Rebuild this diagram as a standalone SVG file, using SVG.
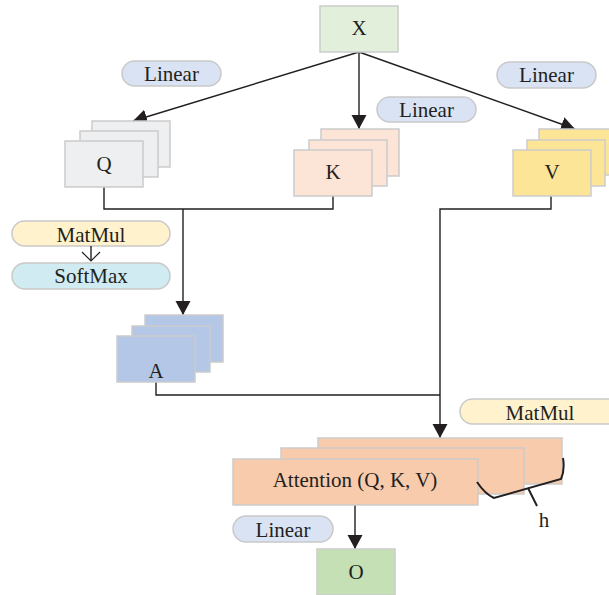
<svg xmlns="http://www.w3.org/2000/svg" width="609" height="595" viewBox="0 0 609 595">
<style>
.box{stroke:#cbcbcb;stroke-width:1.5}
.pill{stroke:#c9c9c9;stroke-width:1.5}
.t{font-family:"Liberation Serif","Times New Roman",serif;font-size:21px;fill:#231f20;text-anchor:middle}
.ln{fill:none;stroke:#231f20;stroke-width:1.4}
.gx{fill:#e2efda}.gq{fill:#eeeff0}.gk{fill:#fce4d6}.gv{fill:#fde598}.ga{fill:#b4c7e7}.gat{fill:#f8cbad}.go{fill:#c5e0b4}
.lin{fill:#dae3f3}.mm{fill:#fff2cc}.sm{fill:#d0ebf2}
</style>
<defs>
<marker id="ah" markerUnits="userSpaceOnUse" markerWidth="16" markerHeight="18" viewBox="0 0 16 18" refX="14" refY="9" orient="auto">
<path d="M0,1.5 L14,9 L0,16.5 Z" fill="#231f20"/>
</marker>
<marker id="oa" markerUnits="userSpaceOnUse" markerWidth="12" markerHeight="22" viewBox="0 0 12 22" refX="10" refY="11" orient="auto">
<path d="M1,2 L10,11 L1,20" fill="none" stroke="#231f20" stroke-width="1.2"/>
</marker>
</defs>

<g id="labels">
<g id="linear-q"><rect class="pill lin" x="122" y="61" width="99" height="25" rx="12.5"/><text class="t" x="171.5" y="81">Linear</text></g>
<g id="linear-k"><rect class="pill lin" x="377" y="97" width="99" height="25" rx="12.5"/><text class="t" x="426.5" y="117">Linear</text></g>
<g id="linear-v"><rect class="pill lin" x="497" y="62" width="99" height="26" rx="13"/><text class="t" x="546.5" y="82">Linear</text></g>
<g id="matmul1"><rect class="pill mm" x="12" y="221" width="158" height="25" rx="12.5"/><text class="t" x="91" y="242">MatMul</text></g>
<g id="softmax"><rect class="pill sm" x="12" y="263" width="158" height="26" rx="13"/><text class="t" x="91" y="283">SoftMax</text></g>
<g id="matmul2"><rect class="pill mm" x="460" y="399" width="160" height="25" rx="12.5"/><text class="t" x="540" y="420">MatMul</text></g>
<g id="linear-o"><rect class="pill lin" x="233" y="516" width="100" height="26" rx="13"/><text class="t" x="283" y="537">Linear</text></g>
</g>

<g id="connectors">
<line class="ln" x1="359" y1="52" x2="133" y2="121" marker-end="url(#ah)"/>
<line class="ln" x1="359" y1="52" x2="359" y2="129" marker-end="url(#ah)"/>
<line class="ln" x1="359" y1="52" x2="575" y2="129" marker-end="url(#ah)"/>
<polyline class="ln" points="104,187 104,209 333,209 333,196"/>
<line class="ln" x1="183" y1="209" x2="183" y2="315" marker-end="url(#ah)"/>
<polyline class="ln" points="156,382 156,395 440,395"/>
<polyline class="ln" points="551,196 551,209 440,209 440,438" marker-end="url(#ah)"/>
<line class="ln" x1="355" y1="505" x2="355" y2="549" marker-end="url(#ah)"/>
<line class="ln" x1="91" y1="246" x2="91" y2="261" marker-end="url(#oa)"/>
</g>

<g id="X"><rect class="box gx" x="320" y="6" width="78" height="46"/><text class="t" x="359" y="35">X</text></g>

<g id="Q">
<rect class="box gq" x="92" y="121" width="78" height="46"/>
<rect class="box gq" x="80" y="131" width="78" height="46"/>
<rect class="box gq" x="65" y="141" width="78" height="46"/>
<text class="t" x="104" y="171">Q</text>
</g>

<g id="K">
<rect class="box gk" x="321" y="129" width="78" height="47"/>
<rect class="box gk" x="309" y="140" width="78" height="46"/>
<rect class="box gk" x="294" y="150" width="78" height="46"/>
<text class="t" x="333" y="179">K</text>
</g>

<g id="V">
<rect class="box gv" x="539" y="129" width="78" height="46"/>
<rect class="box gv" x="527" y="140" width="78" height="46"/>
<rect class="box gv" x="513" y="150" width="78" height="46"/>
<text class="t" x="552" y="179">V</text>
</g>

<g id="A">
<rect class="box ga" x="145" y="315" width="78" height="47"/>
<rect class="box ga" x="132" y="326" width="78" height="46"/>
<rect class="box ga" x="117" y="336" width="78" height="46"/>
<text class="t" x="156" y="378">A</text>
</g>

<g id="Attention">
<rect class="box gat" x="318" y="438" width="244" height="46"/>
<rect class="box gat" x="281" y="448" width="243" height="46"/>
<rect class="box gat" x="233" y="459" width="245" height="46"/>
<text class="t" x="355" y="487">Attention (Q, K, V)</text>
<path d="M477,482 Q485,494 494,498 L561,479 Q565,470 563,458" fill="none" stroke="#231f20" stroke-width="2"/>
<line x1="528" y1="488" x2="537" y2="506" stroke="#231f20" stroke-width="2"/>
<text class="t" x="544" y="527">h</text>
</g>

<g id="O"><rect class="box go" x="317" y="549" width="78" height="46"/><text class="t" x="356" y="579">O</text></g>
</svg>
